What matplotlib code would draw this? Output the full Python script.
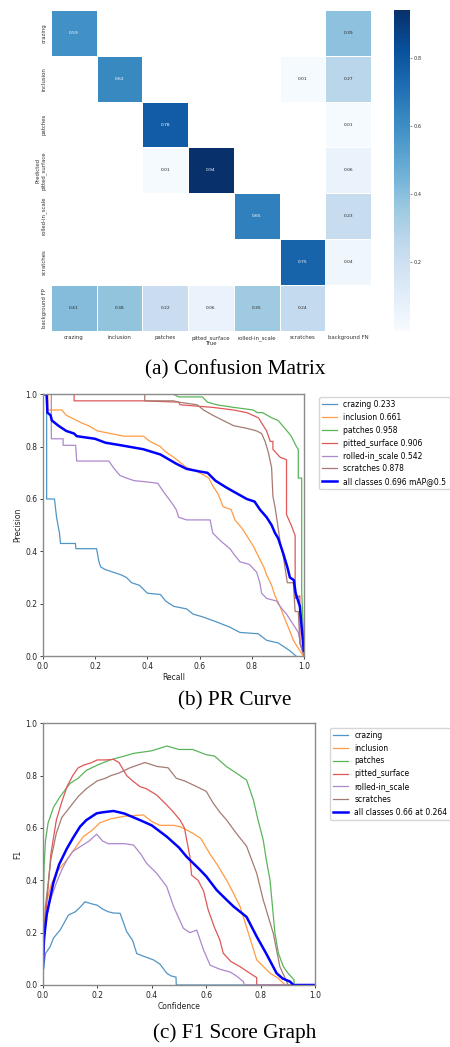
import numpy as np
import matplotlib
matplotlib.use('Agg')
import matplotlib.pyplot as plt
import seaborn as sns

# ---------------- data ----------------
classes = ['crazing', 'inclusion', 'patches', 'pitted_surface', 'rolled-in_scale', 'scratches']
cm_x_labels = classes + ['background FN']
cm_y_labels = classes + ['background FP']
nan = np.nan
cm_row_crazing = [0.59, nan, nan, nan, nan, nan, 0.39]
cm_row_inclusion = [nan, 0.62, nan, nan, nan, 0.01, 0.27]
cm_row_patches = [nan, nan, 0.78, nan, nan, nan, 0.01]
cm_row_pitted = [nan, nan, 0.01, 0.94, nan, nan, 0.06]
cm_row_rolled = [nan, nan, nan, nan, 0.65, nan, 0.23]
cm_row_scratches = [nan, nan, nan, nan, nan, 0.75, 0.04]
cm_row_bgfp = [0.41, 0.38, 0.22, 0.06, 0.35, 0.24, nan]

ap_values = [0.233, 0.661, 0.958, 0.906, 0.542, 0.878]
map_all = 0.696
f1_best = 0.66
f1_best_conf = 0.264

# PR curves (recall, precision)
pr_crazing_r = [0.0, 0.015, 0.015, 0.045, 0.053, 0.064, 0.068, 0.125, 0.127, 0.206, 0.215, 0.222, 0.24, 0.30, 0.32, 0.34, 0.37, 0.40, 0.45, 0.47, 0.50, 0.55, 0.575, 0.61, 0.665, 0.716, 0.754, 0.824, 0.856, 0.90, 0.945, 0.968]
pr_crazing_p = [1.0, 1.0, 0.60, 0.60, 0.53, 0.47, 0.43, 0.43, 0.41, 0.41, 0.36, 0.34, 0.33, 0.31, 0.30, 0.28, 0.27, 0.24, 0.235, 0.21, 0.19, 0.18, 0.16, 0.15, 0.13, 0.11, 0.09, 0.085, 0.06, 0.05, 0.02, 0.0]
pr_inclusion_r = [0.0, 0.02, 0.02, 0.073, 0.09, 0.13, 0.15, 0.175, 0.21, 0.26, 0.31, 0.385, 0.41, 0.45, 0.47, 0.50, 0.525, 0.55, 0.58, 0.60, 0.635, 0.65, 0.67, 0.69, 0.72, 0.735, 0.76, 0.78, 0.805, 0.825, 0.845, 0.856, 0.875, 0.888, 0.907, 0.926, 0.943, 0.958, 0.977, 0.996]
pr_inclusion_p = [1.0, 1.0, 0.94, 0.94, 0.92, 0.90, 0.89, 0.88, 0.86, 0.85, 0.84, 0.84, 0.82, 0.80, 0.78, 0.76, 0.74, 0.72, 0.71, 0.70, 0.68, 0.65, 0.62, 0.57, 0.56, 0.52, 0.49, 0.46, 0.42, 0.38, 0.34, 0.31, 0.27, 0.23, 0.19, 0.14, 0.10, 0.06, 0.03, 0.0]
pr_patches_r = [0.0, 0.50, 0.52, 0.61, 0.63, 0.665, 0.73, 0.805, 0.82, 0.84, 0.876, 0.90, 0.934, 0.95, 0.97, 0.977, 0.977, 0.99, 0.99, 1.0]
pr_patches_p = [1.0, 1.0, 0.99, 0.99, 0.97, 0.96, 0.95, 0.94, 0.93, 0.93, 0.91, 0.90, 0.86, 0.84, 0.80, 0.79, 0.68, 0.68, 0.25, 0.0]
pr_pitted_r = [0.0, 0.12, 0.12, 0.385, 0.52, 0.525, 0.65, 0.73, 0.78, 0.825, 0.837, 0.856, 0.87, 0.88, 0.88, 0.907, 0.932, 0.932, 0.95, 0.965, 0.965, 0.983, 0.983, 1.0]
pr_pitted_p = [1.0, 1.0, 0.975, 0.975, 0.97, 0.96, 0.95, 0.94, 0.93, 0.91, 0.89, 0.86, 0.82, 0.82, 0.79, 0.76, 0.75, 0.54, 0.50, 0.46, 0.22, 0.23, 0.05, 0.0]
pr_rolled_r = [0.0, 0.033, 0.033, 0.078, 0.078, 0.126, 0.13, 0.253, 0.27, 0.295, 0.32, 0.35, 0.40, 0.44, 0.46, 0.49, 0.51, 0.52, 0.55, 0.64, 0.65, 0.68, 0.716, 0.73, 0.754, 0.79, 0.818, 0.83, 0.837, 0.856, 0.894, 0.907, 0.932, 0.958, 0.977, 0.99, 1.0]
pr_rolled_p = [1.0, 1.0, 0.83, 0.83, 0.805, 0.805, 0.745, 0.745, 0.72, 0.69, 0.68, 0.67, 0.665, 0.66, 0.63, 0.59, 0.56, 0.53, 0.52, 0.52, 0.47, 0.44, 0.41, 0.39, 0.36, 0.35, 0.32, 0.28, 0.24, 0.22, 0.21, 0.19, 0.16, 0.12, 0.09, 0.03, 0.0]
pr_scratches_r = [0.0, 0.39, 0.39, 0.50, 0.52, 0.59, 0.615, 0.65, 0.69, 0.73, 0.78, 0.818, 0.837, 0.85, 0.862, 0.875, 0.88, 0.888, 0.90, 0.907, 0.92, 0.935, 0.958, 0.965, 0.977, 0.983, 1.0]
pr_scratches_p = [1.0, 1.0, 0.975, 0.975, 0.97, 0.96, 0.94, 0.92, 0.90, 0.88, 0.87, 0.86, 0.85, 0.82, 0.78, 0.72, 0.61, 0.57, 0.49, 0.44, 0.38, 0.28, 0.28, 0.17, 0.17, 0.05, 0.0]
pr_all_r = [0.0, 0.015, 0.018, 0.03, 0.035, 0.06, 0.09, 0.12, 0.13, 0.20, 0.24, 0.30, 0.385, 0.45, 0.51, 0.55, 0.60, 0.63, 0.66, 0.70, 0.73, 0.78, 0.81, 0.83, 0.856, 0.875, 0.888, 0.90, 0.92, 0.935, 0.945, 0.96, 0.967, 0.983, 0.99, 0.998]
pr_all_p = [1.0, 1.0, 0.93, 0.92, 0.90, 0.88, 0.86, 0.85, 0.84, 0.83, 0.815, 0.805, 0.79, 0.77, 0.735, 0.715, 0.705, 0.70, 0.67, 0.645, 0.628, 0.60, 0.59, 0.56, 0.53, 0.50, 0.47, 0.45, 0.39, 0.34, 0.30, 0.29, 0.24, 0.19, 0.11, 0.02]

# F1 curves (confidence, F1)
f1_crazing_c = [0.0, 0.005, 0.01, 0.027, 0.04, 0.064, 0.08, 0.094, 0.12, 0.14, 0.155, 0.18, 0.20, 0.22, 0.24, 0.26, 0.284, 0.308, 0.33, 0.345, 0.37, 0.406, 0.43, 0.455, 0.47, 0.489, 0.49, 1.0]
f1_crazing_f = [0.03, 0.08, 0.12, 0.146, 0.18, 0.21, 0.24, 0.267, 0.28, 0.30, 0.318, 0.31, 0.305, 0.29, 0.28, 0.275, 0.274, 0.204, 0.17, 0.12, 0.11, 0.096, 0.08, 0.045, 0.035, 0.03, 0.0, 0.0]
f1_inclusion_c = [0.0, 0.01, 0.03, 0.05, 0.088, 0.11, 0.149, 0.18, 0.21, 0.25, 0.30, 0.369, 0.40, 0.43, 0.48, 0.504, 0.55, 0.58, 0.614, 0.64, 0.675, 0.70, 0.724, 0.754, 0.785, 0.81, 0.834, 0.865, 0.889, 1.0]
f1_inclusion_f = [0.05, 0.30, 0.38, 0.43, 0.478, 0.51, 0.567, 0.59, 0.62, 0.635, 0.645, 0.65, 0.625, 0.61, 0.61, 0.605, 0.58, 0.56, 0.50, 0.46, 0.40, 0.35, 0.30, 0.20, 0.096, 0.07, 0.045, 0.025, 0.0, 0.0]
f1_patches_c = [0.0, 0.005, 0.01, 0.02, 0.04, 0.064, 0.10, 0.13, 0.16, 0.20, 0.247, 0.30, 0.333, 0.40, 0.455, 0.50, 0.55, 0.60, 0.63, 0.675, 0.71, 0.748, 0.773, 0.79, 0.809, 0.82, 0.834, 0.852, 0.865, 0.883, 0.90, 0.922, 0.922, 1.0]
f1_patches_f = [0.2, 0.45, 0.55, 0.62, 0.68, 0.72, 0.77, 0.79, 0.82, 0.84, 0.86, 0.875, 0.885, 0.895, 0.913, 0.90, 0.90, 0.88, 0.875, 0.834, 0.81, 0.783, 0.707, 0.63, 0.554, 0.48, 0.40, 0.197, 0.12, 0.07, 0.045, 0.02, 0.0, 0.0]
f1_pitted_c = [0.0, 0.01, 0.03, 0.05, 0.07, 0.09, 0.11, 0.13, 0.15, 0.18, 0.20, 0.23, 0.26, 0.28, 0.308, 0.33, 0.357, 0.38, 0.418, 0.455, 0.48, 0.504, 0.52, 0.54, 0.546, 0.57, 0.59, 0.607, 0.63, 0.65, 0.662, 0.69, 0.724, 0.76, 0.785, 0.785, 1.0]
f1_pitted_f = [0.05, 0.25, 0.50, 0.63, 0.70, 0.76, 0.80, 0.83, 0.84, 0.85, 0.86, 0.86, 0.862, 0.85, 0.80, 0.78, 0.758, 0.75, 0.726, 0.688, 0.66, 0.63, 0.60, 0.49, 0.42, 0.40, 0.36, 0.287, 0.22, 0.172, 0.122, 0.09, 0.07, 0.045, 0.028, 0.0, 0.0]
f1_rolled_c = [0.0, 0.01, 0.03, 0.05, 0.07, 0.09, 0.11, 0.14, 0.17, 0.198, 0.22, 0.24, 0.27, 0.30, 0.333, 0.36, 0.381, 0.418, 0.455, 0.48, 0.516, 0.54, 0.565, 0.59, 0.614, 0.65, 0.687, 0.71, 0.736, 0.74, 1.0]
f1_rolled_f = [0.03, 0.25, 0.33, 0.39, 0.44, 0.48, 0.51, 0.53, 0.55, 0.576, 0.55, 0.54, 0.54, 0.54, 0.535, 0.50, 0.465, 0.427, 0.376, 0.30, 0.217, 0.20, 0.21, 0.134, 0.076, 0.06, 0.05, 0.035, 0.013, 0.0, 0.0]
f1_scratches_c = [0.0, 0.01, 0.03, 0.05, 0.07, 0.10, 0.13, 0.16, 0.20, 0.23, 0.25, 0.28, 0.32, 0.375, 0.42, 0.46, 0.49, 0.52, 0.565, 0.60, 0.626, 0.65, 0.675, 0.71, 0.748, 0.785, 0.809, 0.846, 0.87, 0.895, 0.90, 1.0]
f1_scratches_f = [0.05, 0.30, 0.48, 0.58, 0.64, 0.68, 0.72, 0.75, 0.78, 0.79, 0.80, 0.81, 0.83, 0.85, 0.835, 0.83, 0.79, 0.78, 0.758, 0.74, 0.694, 0.66, 0.63, 0.58, 0.53, 0.427, 0.325, 0.197, 0.07, 0.013, 0.0, 0.0]
f1_all_c = [0.0, 0.005, 0.015, 0.039, 0.06, 0.088, 0.11, 0.137, 0.16, 0.198, 0.22, 0.26, 0.30, 0.357, 0.40, 0.455, 0.50, 0.528, 0.577, 0.60, 0.638, 0.67, 0.70, 0.748, 0.785, 0.82, 0.858, 0.88, 0.907, 0.92, 1.0]
f1_all_f = [0.05, 0.18, 0.27, 0.39, 0.46, 0.52, 0.56, 0.605, 0.63, 0.656, 0.66, 0.665, 0.655, 0.63, 0.61, 0.567, 0.525, 0.49, 0.44, 0.415, 0.363, 0.33, 0.30, 0.26, 0.185, 0.12, 0.045, 0.025, 0.013, 0.0, 0.0]

# ---------------- figure ----------------
W, H = 450, 1047
fig = plt.figure(figsize=(W / 100, H / 100), dpi=100)


def box(l, t, r, b):
    return [l / W, 1 - b / H, (r - l) / W, (b - t) / H]


CAPTION_FONT = dict(family='Liberation Serif', fontsize=15.3, ha='center', va='center')
SPINE_C = '#8a8a8a'
TXT_C = '#222222'

# ---- (a) confusion matrix ----
cm = np.array([cm_row_crazing, cm_row_inclusion, cm_row_patches, cm_row_pitted,
               cm_row_rolled, cm_row_scratches, cm_row_bgfp])
ax_cm = fig.add_axes(box(51, 10, 371, 330.7))
cax = fig.add_axes(box(394, 10, 410, 330.7))
sns.heatmap(cm, ax=ax_cm, cbar_ax=cax, annot=True, fmt='.2f', cmap='Blues',
            vmin=0.0, vmax=0.94, annot_kws={'size': 3.2},
            linewidths=0.4, linecolor='white',
            xticklabels=cm_x_labels, yticklabels=cm_y_labels)
ax_cm.set_facecolor('white')
ax_cm.tick_params(length=0, labelsize=3.9, colors='#333333', pad=3)
ax_cm.set_xticklabels(cm_x_labels, rotation=0, fontsize=3.9, color='#333333')
ax_cm.set_yticklabels(cm_y_labels, rotation=90, va='center', fontsize=3.9, color='#333333')
ax_cm.set_xlabel('True', fontsize=3.9, color='#333333', labelpad=0.5)
ax_cm.set_ylabel('Predicted', fontsize=3.9, color='#333333', labelpad=0.5)
cax.tick_params(labelsize=3.6, length=1.5, width=0.4, colors='#333333', pad=1)
cax.set_yticks([0.2, 0.4, 0.6, 0.8])
fig.text(235 / W, 1 - 370 / H, '(a) Confusion Matrix', **CAPTION_FONT)


def style_axes(ax, xlabel, ylabel):
    ax.set_xlim(0, 1)
    ax.set_ylim(0, 1)
    ax.set_xticks([0, 0.2, 0.4, 0.6, 0.8, 1.0])
    ax.set_yticks([0, 0.2, 0.4, 0.6, 0.8, 1.0])
    ax.tick_params(labelsize=5.5, length=2.5, width=0.6, pad=1.5, colors=TXT_C)
    for s in ax.spines.values():
        s.set_color(SPINE_C)
        s.set_linewidth(1.0)
    ax.set_xlabel(xlabel, fontsize=5.5, labelpad=2, color=TXT_C)
    ax.set_ylabel(ylabel, fontsize=5.5, labelpad=2, color=TXT_C)


base = np.array(plt.get_cmap('tab10').colors[:6])
colors = [tuple(c) for c in base * 0.78 + 0.22]

# ---- (b) PR curve ----
ax_pr = fig.add_axes(box(42.7, 394.3, 304.3, 656))
pr_r = [pr_crazing_r, pr_inclusion_r, pr_patches_r, pr_pitted_r, pr_rolled_r, pr_scratches_r]
pr_p = [pr_crazing_p, pr_inclusion_p, pr_patches_p, pr_pitted_p, pr_rolled_p, pr_scratches_p]
for i, name in enumerate(classes):
    ax_pr.plot(pr_r[i], pr_p[i], lw=0.9, color=colors[i],
               label=f'{name} {ap_values[i]:.3f}')
ax_pr.plot(pr_all_r, pr_all_p, lw=1.8, color='blue',
           label=f'all classes {map_all:.3f} mAP@0.5')
style_axes(ax_pr, 'Recall', 'Precision')
ax_pr.legend(loc='upper left', bbox_to_anchor=(319 / W, 1 - 397 / H),
             bbox_transform=fig.transFigure, fontsize=5.5, borderaxespad=0,
             labelspacing=0.5, handlelength=2.0, fancybox=True)
fig.text(235 / W, 1 - 701 / H, '(b) PR Curve', **CAPTION_FONT)

# ---- (c) F1 curve ----
ax_f1 = fig.add_axes(box(42.7, 723.3, 315.3, 985))
f1_c = [f1_crazing_c, f1_inclusion_c, f1_patches_c, f1_pitted_c, f1_rolled_c, f1_scratches_c]
f1_f = [f1_crazing_f, f1_inclusion_f, f1_patches_f, f1_pitted_f, f1_rolled_f, f1_scratches_f]
for i, name in enumerate(classes):
    ax_f1.plot(f1_c[i], f1_f[i], lw=0.9, color=colors[i], label=name)
ax_f1.plot(f1_all_c, f1_all_f, lw=1.8, color='blue',
           label=f'all classes {f1_best:.2f} at {f1_best_conf:.3f}')
style_axes(ax_f1, 'Confidence', 'F1')
ax_f1.legend(loc='upper left', bbox_to_anchor=(330 / W, 1 - 727.7 / H),
             bbox_transform=fig.transFigure, fontsize=5.5, borderaxespad=0,
             labelspacing=0.5, handlelength=2.0, fancybox=True)
fig.text(235 / W, 1 - 1033 / H, '(c) F1 Score Graph', **CAPTION_FONT)

fig.savefig('out.png', dpi=100)
